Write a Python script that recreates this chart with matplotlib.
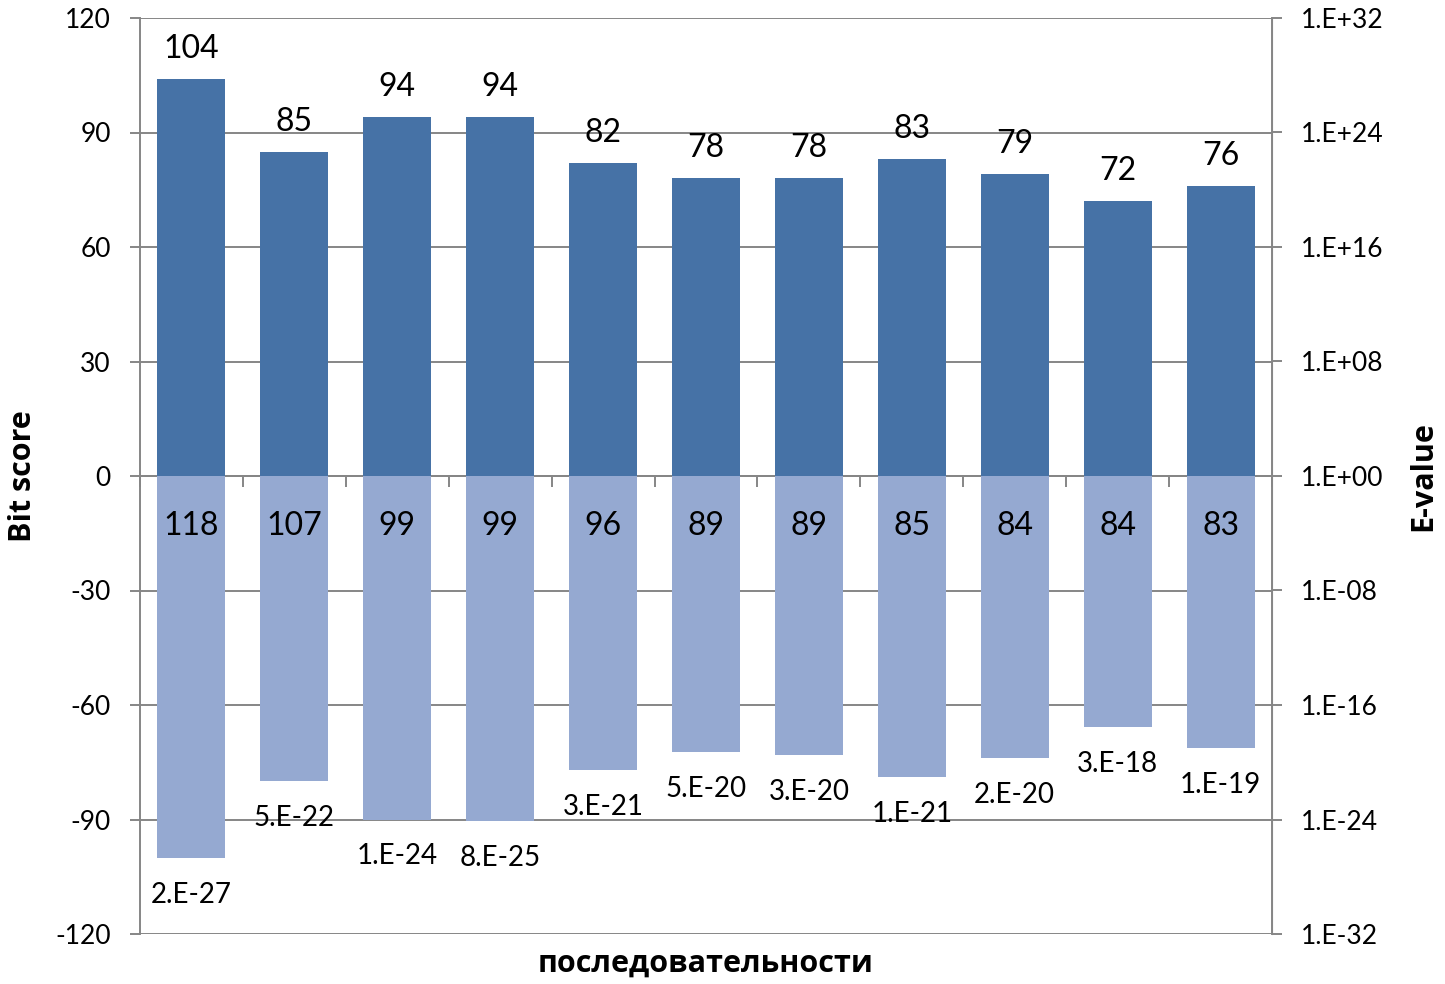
import matplotlib.pyplot as plt
import numpy as np
from matplotlib.ticker import NullLocator

plt.rcParams['font.family'] = ['Lato', 'Open Sans', 'DejaVu Sans']
plt.rcParams['axes.unicode_minus'] = False

# bit score сверху, E-value снизу (лог. шкала справа)
bit_scores = [104, 85, 94, 94, 82, 78, 78, 83, 79, 72, 76]
max_scores = [118, 107, 99, 99, 96, 89, 89, 85, 84, 84, 83]
e_values = [2e-27, 5e-22, 1e-24, 8e-25, 3e-21, 5e-20, 3e-20, 1e-21, 2e-20, 3e-18, 1e-19]

top_color = '#4672A6'
bottom_color = '#95A9D1'
grid_color = '#868686'
bold_font = ['Open Sans', 'DejaVu Sans']


def excel_exp(v):
    # формат как в Excel: 2.E-27
    return ('%.0E' % v).replace('E', '.E')


x = np.arange(len(bit_scores))
w = 0.66

fig = plt.figure(figsize=(14.45, 9.84), dpi=100)
ax = fig.add_axes([140 / 1445, 50 / 984, 1132 / 1445, 916 / 984])

ax.bar(x, bit_scores, w, color=top_color)
ax.set_xlim(-0.5, len(x) - 0.5)
ax.set_ylim(-120, 120)
ax.set_yticks(np.arange(-120, 121, 30))
ax.grid(axis='y', color=grid_color, linewidth=1.4)
ax.set_axisbelow(True)

ax.spines['top'].set_visible(False)
ax.spines['right'].set_color(grid_color)
ax.spines['left'].set_color(grid_color)
ax.spines['left'].set_linewidth(1.4)
ax.spines['bottom'].set_position(('data', 0))
ax.spines['bottom'].set_color(grid_color)
ax.spines['bottom'].set_linewidth(1.4)
ax.spines['bottom'].set_zorder(0.5)

ax.set_xticks(np.arange(-0.5, len(x), 1))
ax.set_xticklabels([])
ax.tick_params(axis='x', direction='out', length=8, width=1.4, color=grid_color)
ax.tick_params(axis='y', direction='out', length=7, width=1.4, color=grid_color,
               labelsize=19, pad=14)

for i, v in enumerate(bit_scores):
    ax.annotate(str(v), (x[i], v), xytext=(0, 30), textcoords='offset pixels',
                ha='center', va='center', fontsize=23)

ax.set_ylabel('Bit score', fontsize=22, fontweight='bold', family=bold_font)
ax.yaxis.set_label_coords(-0.09, 0.5)
ax.set_xlabel('последовательности', fontsize=22, fontweight='bold', family=bold_font)
ax.xaxis.set_label_coords(0.5, -0.016)

# E-value на второй оси: столбики от значения до 1
ax2 = ax.twinx()
ax2.set_yscale('log')
ax2.set_ylim(1e-32, 1e32)
ax2.bar(x, [1 - e for e in e_values], w, bottom=e_values, color=bottom_color)
ticks = 10.0 ** np.arange(-32, 33, 8)
ax2.set_yticks(ticks)
ax2.yaxis.set_minor_locator(NullLocator())
ax2.set_yticklabels([excel_exp(t) for t in ticks])
ax2.tick_params(axis='y', direction='out', length=7, width=1.4, color=grid_color,
                labelsize=19, pad=14)
for s in ['top', 'left', 'bottom']:
    ax2.spines[s].set_visible(False)
ax2.spines['right'].set_color(grid_color)
ax2.spines['right'].set_linewidth(1.4)

for i, e in enumerate(e_values):
    ax2.annotate(excel_exp(e), (x[i], e), xytext=(0, -37), textcoords='offset pixels',
                 ha='center', va='center', fontsize=20)
    ax2.annotate(str(max_scores[i]), (x[i], 1), xytext=(0, -50),
                 textcoords='offset pixels', ha='center', va='center', fontsize=23)

ax2.set_ylabel('E-value', fontsize=22, fontweight='bold', family=bold_font)
ax2.yaxis.set_label_coords(1.12, 0.5)

plt.savefig('out.png', dpi=100)
